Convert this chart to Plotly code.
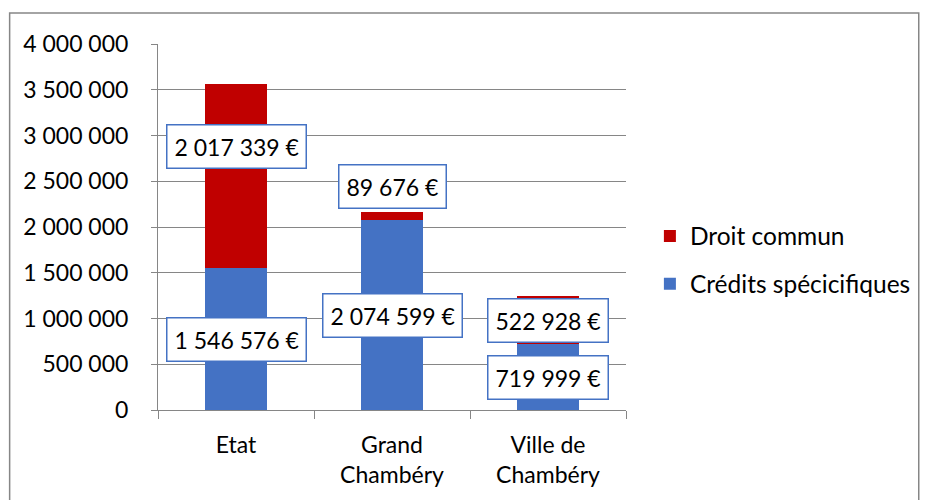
import plotly.graph_objects as go

categories = ["Etat", "Grand<br>Chambéry", "Ville de<br>Chambéry"]
credits_specifiques = [1546576, 2074599, 719999]
droit_commun = [2017339, 89676, 522928]
y_ticks = [0, 500000, 1000000, 1500000, 2000000, 2500000, 3000000, 3500000, 4000000]

def fmt(v):
    return f"{v:,}".replace(",", " ")

BLUE = "#4472C4"
RED = "#C00000"
GRID = "#868686"
FONT = "Lato"
FS = 23

W, H = 920, 492
ML, MT = 150, 36
PW, PH = 470, 366
MR = W - ML - PW
MB = H - MT - PH

fig = go.Figure()
fig.add_trace(go.Bar(x=categories, y=credits_specifiques, name="Crédits spécicifiques",
                     marker=dict(color=BLUE, line=dict(width=0)), legendgroup="b", legendrank=2))
fig.add_trace(go.Bar(x=categories, y=droit_commun, name="Droit commun",
                     marker=dict(color=RED, line=dict(width=0)), legendgroup="a", legendrank=1))

# data labels
label_shift = [[0, 30], [0, 30], [0, 0]]  # (blue, red) pixel shifts per category
for i, c in enumerate(categories):
    b = credits_specifiques[i]
    r = droit_commun[i]
    for val, center, sh in [(b, b / 2, label_shift[i][0]), (r, b + r / 2, label_shift[i][1])]:
        fig.add_annotation(x=c, y=center, text=fmt(val) + " €", showarrow=False,
                           yshift=sh, bgcolor="white", bordercolor=BLUE, borderwidth=1.5,
                           borderpad=7, font=dict(family=FONT, size=FS, color="black"))

fig.add_shape(type="rect", xref="paper", yref="paper",
              x0=(1 - ML) / PW, x1=(914 - ML) / PW,
              y0=(MT + PH - 520) / PH, y1=(MT + PH - 5) / PH,
              line=dict(color=GRID, width=1.5), fillcolor="rgba(0,0,0,0)", layer="below")

fig.update_layout(
    width=W, height=H,
    margin=dict(l=ML, r=MR, t=MT, b=MB),
    barmode="stack", bargap=0.6,
    paper_bgcolor="white", plot_bgcolor="white",
    font=dict(family=FONT, size=FS, color="black"),
    legend=dict(x=(644 - ML) / PW, xanchor="left", y=(MT + PH - 252) / PH, yanchor="middle",
                traceorder="grouped", tracegroupgap=13,
                font=dict(family=FONT, size=24.5), bgcolor="rgba(0,0,0,0)"),
    yaxis=dict(range=[0, 4000000], tickvals=y_ticks, ticktext=[fmt(v) for v in y_ticks],
               showgrid=True, gridcolor=GRID, gridwidth=1, zeroline=False,
               showline=True, linecolor=GRID, linewidth=1,
               ticks="outside", ticklen=6, tickcolor=GRID, ticklabelstandoff=18),
    xaxis=dict(showline=True, linecolor=GRID, linewidth=1, ticks="outside",
               tickson="boundaries", ticklen=8, tickcolor=GRID, showgrid=False,
               ticklabelstandoff=14),
)

fig.write_html("out.html")
